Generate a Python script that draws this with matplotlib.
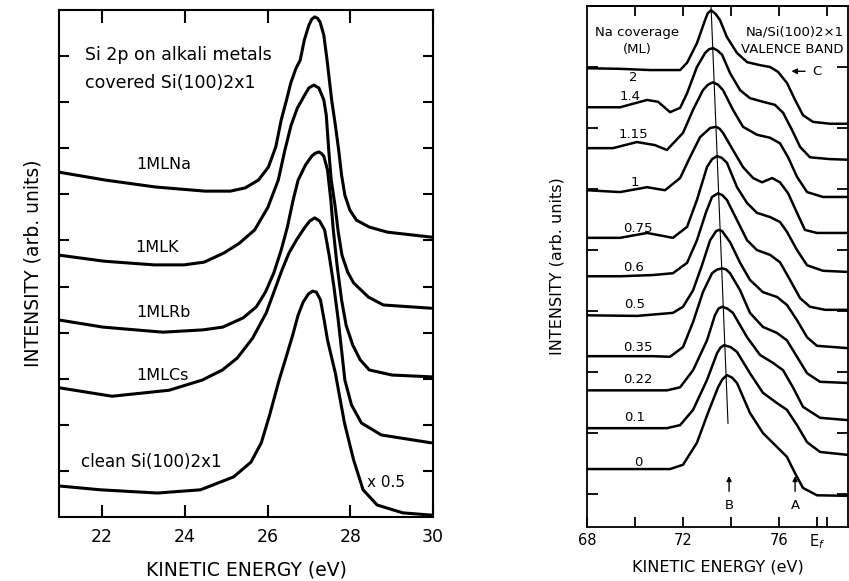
import matplotlib
matplotlib.use('Agg')
import matplotlib.pyplot as plt

plt.rcParams['font.family'] = 'DejaVu Sans'

# ============ LEFT PANEL: Si 2p core level ============
NA_E = [20.97, 22.08, 23.29, 24.49, 25.10, 25.46, 25.78, 26.02, 26.20, 26.33, 26.46, 26.56,
        26.69, 26.79, 26.89, 27.00, 27.07, 27.14, 27.21, 27.27, 27.36, 27.44, 27.55, 27.64,
        27.72, 27.79, 27.87, 27.99, 28.15, 28.46, 28.90, 29.98]
NA_I = [7.48, 7.31, 7.16, 7.07, 7.07, 7.14, 7.31, 7.59, 8.03, 8.61, 9.05, 9.41,
        9.74, 9.91, 10.35, 10.67, 10.80, 10.85, 10.82, 10.74, 10.46, 9.91, 9.05, 8.50,
        7.96, 7.42, 6.98, 6.66, 6.44, 6.29, 6.18, 6.07]

K_E = [20.97, 22.05, 23.26, 23.98, 24.47, 24.95, 25.32, 25.69, 26.01, 26.26, 26.42, 26.57,
       26.72, 26.87, 27.00, 27.12, 27.24, 27.36, 27.42, 27.48, 27.54, 27.63, 27.71, 27.80,
       27.94, 28.08, 28.44, 28.80, 29.95]
K_I = [5.68, 5.55, 5.47, 5.47, 5.53, 5.73, 5.94, 6.23, 6.72, 7.31, 7.96, 8.50,
       8.87, 9.11, 9.31, 9.37, 9.31, 9.05, 8.72, 7.96, 7.31, 6.77, 6.18, 5.68,
       5.31, 5.08, 4.77, 4.60, 4.53]

RB_E = [20.99, 22.02, 23.47, 24.44, 24.92, 25.41, 25.73, 25.95, 26.15, 26.33, 26.48, 26.62,
        26.74, 26.92, 27.07, 27.15, 27.24, 27.30, 27.36, 27.45, 27.53, 27.59, 27.68, 27.79,
        27.90, 28.06, 28.24, 28.46, 29.01, 29.98]
RB_I = [4.27, 4.12, 4.01, 4.06, 4.12, 4.32, 4.56, 4.88, 5.29, 5.79, 6.29, 6.88,
        7.31, 7.64, 7.83, 7.89, 7.92, 7.89, 7.83, 7.53, 6.88, 6.23, 5.47, 4.71,
        4.16, 3.73, 3.41, 3.19, 3.08, 3.04]

CS_E = [20.99, 22.24, 23.62, 24.42, 24.91, 25.27, 25.64, 25.97, 26.17, 26.35, 26.52, 26.70,
        26.89, 27.02, 27.14, 27.26, 27.38, 27.49, 27.60, 27.71, 27.79, 27.87, 28.03, 28.27,
        28.75, 29.95]
CS_I = [2.80, 2.62, 2.75, 2.97, 3.19, 3.45, 3.88, 4.43, 4.92, 5.36, 5.73, 6.01,
        6.27, 6.42, 6.49, 6.42, 6.23, 5.68, 5.03, 4.27, 3.62, 2.97, 2.43, 2.04,
        1.78, 1.61]

CLEAN_E = [21.00, 21.96, 23.34, 24.38, 25.18, 25.60, 25.85, 26.05, 26.28, 26.43, 26.61, 26.74,
           26.86, 26.99, 27.09, 27.18, 27.28, 27.37, 27.45, 27.64, 27.86, 28.08, 28.31, 28.65,
           29.27, 29.97]
CLEAN_I = [0.67, 0.59, 0.52, 0.59, 0.87, 1.19, 1.61, 2.21, 2.97, 3.41, 3.95, 4.38,
           4.66, 4.84, 4.90, 4.88, 4.71, 4.27, 3.84, 3.12, 2.04, 1.24, 0.59, 0.26,
           0.09, 0.04]

CORE_LABELS = ['1MLNa', '1MLK', '1MLRb', '1MLCs', 'clean Si(100)2x1']
CORE_TICKS = [22, 24, 26, 28, 30]

# ============ RIGHT PANEL: valence band vs Na coverage ============
VB_2_E = [68.0, 69.38, 70.63, 71.88, 72.17, 72.58, 72.92, 73.03, 73.17, 73.36, 73.54, 73.83,
          74.25, 74.67, 75.21, 75.63, 75.96, 76.33, 76.67, 77.00, 77.42, 78.13, 78.92]
VB_2_I = [6.98, 6.97, 6.95, 6.95, 7.07, 7.39, 7.77, 7.88, 7.93, 7.87, 7.77, 7.49,
          7.23, 7.08, 7.03, 7.00, 6.92, 6.74, 6.46, 6.21, 6.10, 6.07, 6.07]

VB_14_E = [68.0, 69.38, 70.5, 70.96, 71.46, 71.88, 72.17, 72.58, 72.92, 73.08, 73.25, 73.44,
           73.63, 73.96, 74.38, 74.79, 75.33, 75.83, 76.17, 76.54, 76.88, 77.29, 78.13, 78.92]
VB_14_I = [6.34, 6.34, 6.46, 6.43, 6.26, 6.33, 6.57, 7.00, 7.23, 7.29, 7.31, 7.27,
           7.20, 6.90, 6.62, 6.49, 6.43, 6.38, 6.25, 5.97, 5.69, 5.52, 5.49, 5.48]

VB_115_E = [68.0, 69.08, 70.08, 70.83, 71.33, 72.0, 72.42, 72.83, 73.04, 73.25, 73.46, 73.67,
            74.08, 74.5, 75.08, 75.63, 76.04, 76.38, 76.75, 77.17, 77.83, 78.92]
VB_115_I = [5.67, 5.67, 5.77, 5.72, 5.64, 5.92, 6.30, 6.62, 6.71, 6.75, 6.71, 6.62,
            6.30, 6.02, 5.89, 5.84, 5.75, 5.52, 5.20, 4.95, 4.87, 4.87]

VB_1_E = [68.0, 69.38, 70.5, 71.25, 71.88, 72.29, 72.71, 73.13, 73.38, 73.52, 73.67, 74.08,
          74.5, 74.92, 75.29, 75.71, 76.04, 76.38, 76.75, 77.08, 77.58, 78.92]
VB_1_I = [4.98, 4.95, 5.03, 4.98, 5.18, 5.52, 5.85, 6.00, 6.02, 5.99, 5.92, 5.64,
          5.36, 5.18, 5.11, 5.18, 5.11, 4.93, 4.61, 4.33, 4.28, 4.28]

VB_075_E = [68.0, 69.38, 70.5, 71.58, 72.17, 72.58, 73.0, 73.21, 73.42, 73.62, 73.83, 74.25,
            74.67, 75.08, 75.63, 76.04, 76.33, 76.75, 77.17, 77.83, 78.92]
VB_075_I = [4.20, 4.20, 4.28, 4.20, 4.38, 4.82, 5.36, 5.49, 5.54, 5.51, 5.43, 5.03,
            4.77, 4.61, 4.54, 4.46, 4.30, 4.00, 3.75, 3.66, 3.64]

VB_06_E = [68.0, 69.38, 70.75, 71.58, 72.17, 72.58, 72.96, 73.21, 73.46, 73.64, 73.83, 74.25,
           74.67, 75.08, 75.63, 76.04, 76.46, 76.88, 77.29, 77.92, 78.92]
VB_06_I = [3.57, 3.57, 3.59, 3.62, 3.79, 4.16, 4.62, 4.87, 4.93, 4.90, 4.82, 4.49,
           4.16, 4.00, 3.92, 3.80, 3.51, 3.21, 3.07, 3.02, 3.02]

VB_05_E = [68.0, 70.08, 71.58, 72.0, 72.42, 72.79, 73.13, 73.38, 73.50, 73.63, 73.96, 74.38,
           74.79, 75.33, 75.92, 76.33, 76.75, 77.17, 77.58, 78.92]
VB_05_I = [2.93, 2.92, 2.97, 3.07, 3.34, 3.75, 4.16, 4.31, 4.33, 4.31, 4.13, 3.79,
           3.51, 3.31, 3.23, 3.10, 2.85, 2.57, 2.43, 2.39]

VB_035_E = [68.0, 70.75, 71.46, 72.0, 72.42, 72.83, 73.21, 73.42, 73.63, 73.80, 73.96, 74.38,
            74.79, 75.33, 75.92, 76.33, 76.75, 77.17, 77.71, 78.92]
VB_035_I = [2.26, 2.26, 2.25, 2.41, 2.82, 3.31, 3.62, 3.68, 3.70, 3.68, 3.62, 3.34,
            2.97, 2.74, 2.64, 2.52, 2.25, 1.98, 1.84, 1.82]

VB_022_E = [68.0, 71.33, 71.88, 72.42, 73.0, 73.33, 73.48, 73.63, 73.85, 74.08, 74.67, 75.21,
            75.75, 76.17, 76.58, 77.0, 77.71, 78.92]
VB_022_I = [1.70, 1.70, 1.75, 2.03, 2.52, 2.93, 3.04, 3.07, 3.04, 2.97, 2.57, 2.28,
            2.15, 2.03, 1.75, 1.43, 1.25, 1.21]

VB_01_E = [68.0, 71.33, 71.88, 72.42, 73.0, 73.42, 73.56, 73.71, 73.98, 74.25, 74.79, 75.33,
           75.92, 76.33, 76.75, 77.17, 77.71, 78.92]
VB_01_I = [1.08, 1.08, 1.13, 1.38, 1.87, 2.31, 2.40, 2.44, 2.41, 2.33, 1.98, 1.66,
           1.49, 1.38, 1.13, 0.85, 0.69, 0.64]

VB_0_E = [68.0, 71.46, 72.0, 72.58, 73.04, 73.46, 73.64, 73.83, 74.04, 74.25, 74.79, 75.33,
          75.92, 76.33, 76.67, 77.0, 77.58, 78.92]
VB_0_I = [0.41, 0.41, 0.48, 0.84, 1.33, 1.75, 1.88, 1.95, 1.91, 1.82, 1.33, 1.00,
          0.77, 0.61, 0.34, 0.10, -0.02, -0.03]

COVERAGE = ['2', '1.4', '1.15', '1', '0.75', '0.6', '0.5', '0.35', '0.22', '0.1', '0']
# peak B drift line (top end, bottom end)
B_LINE_E = [73.17, 73.875]
B_LINE_I = [7.98, 1.16]
VB_TICKS = [68, 70, 72, 74, 76, 77.6, 78]
VB_TICK_LABELS = ['68', '', '72', '', '76', 'E$_f$', '']


def style_axes(ax, xlen, ylen, lw):
    for s in ax.spines.values():
        s.set_linewidth(lw)
    ax.tick_params(axis='x', direction='in', length=xlen, width=lw, top=True)
    ax.tick_params(axis='y', direction='in', length=ylen, width=lw, right=True,
                   labelleft=False)


fig = plt.figure(figsize=(8.49, 5.81), dpi=100)

# ---------------- left ----------------
ax1 = fig.add_axes([59 / 849, 64 / 581, 374 / 849, 507 / 581])
core = [(NA_E, NA_I), (K_E, K_I), (RB_E, RB_I), (CS_E, CS_I), (CLEAN_E, CLEAN_I)]
for e, i in core:
    ax1.plot(e, i, color='black', linewidth=2.2, solid_capstyle='round',
             solid_joinstyle='round')

ax1.set_xlim(20.96, 30.0)
ax1.set_ylim(0, 11)
ax1.set_xticks(CORE_TICKS)
ax1.set_yticks(range(1, 11))
style_axes(ax1, 9, 7, 1.5)
ax1.tick_params(axis='x', labelsize=12.5, pad=8)

lab_pos = [(23.49, 7.64), (23.34, 5.84), (23.48, 4.43), (23.46, 3.08)]
for txt, (x, y) in zip(CORE_LABELS[:4], lab_pos):
    ax1.text(x, y, txt, fontsize=11.5, ha='center', va='center')
ax1.text(21.49, 1.19, CORE_LABELS[4], fontsize=12, ha='left', va='center')
ax1.text(21.59, 10.02, 'Si 2p on alkali metals', fontsize=12.5, ha='left', va='center')
ax1.text(21.59, 9.41, 'covered Si(100)2x1', fontsize=12.5, ha='left', va='center')
ax1.text(28.41, 0.74, 'x 0.5', fontsize=11, ha='left', va='center')

ax1.set_xlabel('KINETIC ENERGY (eV)', fontsize=13.5, labelpad=10)
ax1.set_ylabel('INTENSITY (arb. units)', fontsize=13.5, labelpad=12)

# ---------------- right ----------------
ax2 = fig.add_axes([587 / 849, 54 / 581, 261 / 849, 521 / 581])
vb = [(VB_2_E, VB_2_I), (VB_14_E, VB_14_I), (VB_115_E, VB_115_I), (VB_1_E, VB_1_I),
      (VB_075_E, VB_075_I), (VB_06_E, VB_06_I), (VB_05_E, VB_05_I), (VB_035_E, VB_035_I),
      (VB_022_E, VB_022_I), (VB_01_E, VB_01_I), (VB_0_E, VB_0_I)]
for e, i in vb:
    ax2.plot(e, i, color='black', linewidth=1.8, solid_capstyle='round',
             solid_joinstyle='round')
ax2.plot(B_LINE_E, B_LINE_I, color='black', linewidth=0.8)

ax2.set_xlim(68, 78.875)
ax2.set_ylim(-0.54, 8.0)
ax2.set_xticks(VB_TICKS)
ax2.set_xticklabels(VB_TICK_LABELS)
ax2.set_yticks(range(0, 8))
style_axes(ax2, 7, 8, 1.3)
ax2.tick_params(axis='x', top=False, labelsize=10.5, pad=4)
top = ax2.secondary_xaxis('top')
top.set_xticks([70, 72, 74, 76, 78])
top.tick_params(direction='in', length=7, width=1.3, labeltop=False)
top.spines['top'].set_linewidth(1.3)

cov_pos = [(69.92, 6.82), (69.79, 6.51), (69.92, 5.89), (70.0, 5.10), (70.13, 4.36),
           (69.92, 3.72), (70.0, 3.10), (70.13, 2.41), (70.13, 1.87), (70.0, 1.25),
           (70.13, 0.52)]
for txt, (x, y) in zip(COVERAGE, cov_pos):
    ax2.text(x, y, txt, fontsize=9.5, ha='center', va='center')

ax2.text(70.1, 7.57, 'Na coverage', fontsize=9.5, ha='center', va='center')
ax2.text(70.1, 7.28, '(ML)', fontsize=9.5, ha='center', va='center')
ax2.text(78.7, 7.57, 'Na/Si(100)2×1', fontsize=9.5, ha='right', va='center')
ax2.text(78.7, 7.28, 'VALENCE BAND', fontsize=9.5, ha='right', va='center')
ax2.annotate('', xy=(76.4, 6.93), xytext=(77.2, 6.93),
             arrowprops=dict(arrowstyle='-|>', color='black', lw=1.0, mutation_scale=8))
ax2.text(77.4, 6.93, 'C', fontsize=9.5, ha='left', va='center')
for x, name in [(73.92, 'B'), (76.67, 'A')]:
    ax2.annotate('', xy=(x, 0.34), xytext=(x, 0.0),
                 arrowprops=dict(arrowstyle='-|>', color='black', lw=1.0, mutation_scale=7))
    ax2.text(x, -0.18, name, fontsize=9.5, ha='center', va='center')

ax2.set_xlabel('KINETIC ENERGY (eV)', fontsize=11.5, labelpad=6)
ax2.set_ylabel('INTENSITY (arb. units)', fontsize=11.5, labelpad=16)

fig.savefig('out.png', dpi=100)
